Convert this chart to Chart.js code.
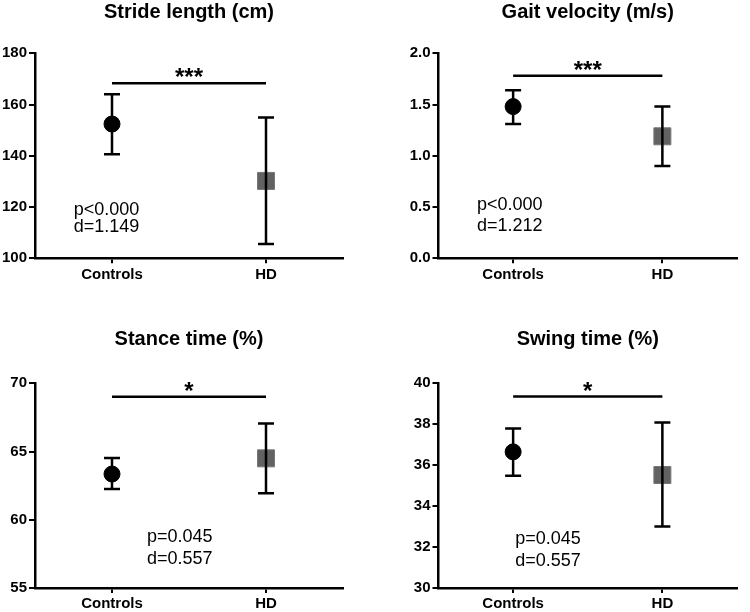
<!DOCTYPE html>
<html>
<head>
<meta charset="utf-8">
<script src="https://cdn.jsdelivr.net/npm/chart.js@4.4.1/dist/chart.umd.min.js"></script>
<style>
  body { margin: 0; background: #fff; }
  #wrap { position: relative; width: 750px; height: 612px; }
  .cell { position: absolute; width: 375px; height: 306px; }
</style>
</head>
<body>
<div id="wrap">
  <div class="cell" style="left:0;top:0"><canvas id="c0" width="375" height="306"></canvas></div>
  <div class="cell" style="left:375px;top:0"><canvas id="c1" width="375" height="306"></canvas></div>
  <div class="cell" style="left:0;top:306px"><canvas id="c2" width="375" height="306"></canvas></div>
  <div class="cell" style="left:375px;top:306px"><canvas id="c3" width="375" height="306"></canvas></div>
</div>
<script>
// data
const groups = ['Controls', 'HD'];
const titles = ['Stride length (cm)', 'Gait velocity (m/s)', 'Stance time (%)', 'Swing time (%)'];
const means = [[152.4, 130.2], [1.48, 1.19], [63.35, 64.5], [36.65, 35.52]];
const upper = [[164.0, 154.9], [1.64, 1.48], [64.52, 67.05], [37.79, 38.08]];
const lower = [[140.6, 105.6], [1.31, 0.90], [62.26, 61.94], [35.48, 33.0]];
const yMin = [100, 0, 55, 30];
const yMax = [180, 2, 70, 40];
const yStep = [20, 0.5, 5, 2];
const yDecimals = [0, 1, 0, 0];
const sigLevel = [168.3, 1.78, 69.02, 39.35];
const stars = ['***', '***', '*', '*'];
const pTexts = ['p<0.000', 'p<0.000', 'p=0.045', 'p=0.045'];
const dTexts = ['d=1.149', 'd=1.212', 'd=0.557', 'd=0.557'];

// where the p / d notes sit: [category index, value of p line, value of d line]
const notePos = [[-0.036, 118.9, 112.3], [-0.023, 0.52, 0.315], [0.44, 58.72, 57.14], [0.234, 32.4, 31.34]];

// plot box of each panel inside its cell (px)
const boxes = [
  { left: 35, right: 343, top: 53.3, bottom: 258.3, titleTop: 0 },
  { left: 63.5, right: 372, top: 53.3, bottom: 258.3, titleTop: 0 },
  { left: 35, right: 343, top: 77.3, bottom: 282, titleTop: 21.5 },
  { left: 63.5, right: 372, top: 77.3, bottom: 282, titleTop: 21.5 }
];

const FONT = 'Arial, "Liberation Sans", sans-serif';
Chart.defaults.font.family = FONT;
Chart.defaults.color = '#000';

const Y_W = 34, X_H = 24, CAP = 8;

const decor = {
  id: 'decor',
  afterDatasetsDraw(chart, args, opts) {
    const i = opts.index;
    const { ctx } = chart;
    const x = chart.scales.x, y = chart.scales.y;
    ctx.save();
    ctx.strokeStyle = '#000';
    ctx.lineWidth = 2.5;
    // error bars
    groups.forEach((g, j) => {
      const px = x.getPixelForValue(j);
      const t = y.getPixelForValue(upper[i][j]);
      const b = y.getPixelForValue(lower[i][j]);
      ctx.beginPath();
      ctx.moveTo(px, t); ctx.lineTo(px, b);
      ctx.moveTo(px - CAP, t); ctx.lineTo(px + CAP, t);
      ctx.moveTo(px - CAP, b); ctx.lineTo(px + CAP, b);
      ctx.stroke();
    });
    // significance bar
    const x0 = x.getPixelForValue(0), x1 = x.getPixelForValue(1);
    const sy = y.getPixelForValue(sigLevel[i]);
    ctx.beginPath();
    ctx.moveTo(x0, sy); ctx.lineTo(x1, sy);
    ctx.stroke();
    ctx.fillStyle = '#000';
    ctx.textAlign = 'center';
    ctx.textBaseline = 'alphabetic';
    ctx.font = 'bold 24px ' + FONT;
    ctx.fillText(stars[i], (x0 + x1) / 2, sy + 2);
    // p and d notes
    ctx.font = '18px ' + FONT;
    ctx.textBaseline = 'middle';
    const nx = x.getPixelForValue(notePos[i][0]);
    ctx.fillText(pTexts[i], nx, y.getPixelForValue(notePos[i][1]));
    ctx.fillText(dTexts[i], nx, y.getPixelForValue(notePos[i][2]));
    ctx.restore();
  }
};

for (let i = 0; i < 4; i++) {
  const bx = boxes[i];
  new Chart(document.getElementById('c' + i), {
    type: 'line',
    data: {
      labels: groups,
      datasets: [{
        data: means[i],
        showLine: false,
        pointStyle: ['circle', 'rect'],
        pointRadius: [8, 12],
        pointBackgroundColor: ['#000000', '#626262'],
        pointBorderColor: ['#000000', '#777777'],
        pointBorderWidth: 1
      }]
    },
    options: {
      responsive: false,
      animation: false,
      events: [],
      layout: {
        padding: {
          left: bx.left - Y_W,
          right: 375 - bx.right,
          top: bx.titleTop,
          bottom: Math.max(0, 306 - bx.bottom - X_H)
        }
      },
      plugins: {
        legend: { display: false },
        tooltip: { enabled: false },
        title: {
          display: true,
          text: titles[i],
          fullSize: false,
          font: { size: 20, weight: 'bold', lineHeight: 1.2 },
          color: '#000',
          padding: { top: 0, bottom: bx.top - bx.titleTop - 24 }
        },
        decor: { index: i }
      },
      scales: {
        x: {
          offset: true,
          grid: { offset: false, drawOnChartArea: false, drawTicks: true, tickLength: 5, color: '#000', lineWidth: 2 },
          border: { display: true, color: '#000', width: 2.5 },
          ticks: { padding: 3, font: { size: 15, weight: 'bold', lineHeight: 1.1 }, color: '#000' },
          afterFit(s) { s.height = X_H; }
        },
        y: {
          min: yMin[i],
          max: yMax[i],
          grid: { drawOnChartArea: false, drawTicks: true, tickLength: 6, color: '#000', lineWidth: 2 },
          border: { display: true, color: '#000', width: 2.5 },
          ticks: {
            stepSize: yStep[i],
            padding: 2,
            font: { size: 15, weight: 'bold' },
            color: '#000',
            callback: v => Number(v).toFixed(yDecimals[i])
          },
          afterFit(s) { s.width = Y_W; }
        }
      }
    },
    plugins: [decor]
  });
}
</script>
</body>
</html>
